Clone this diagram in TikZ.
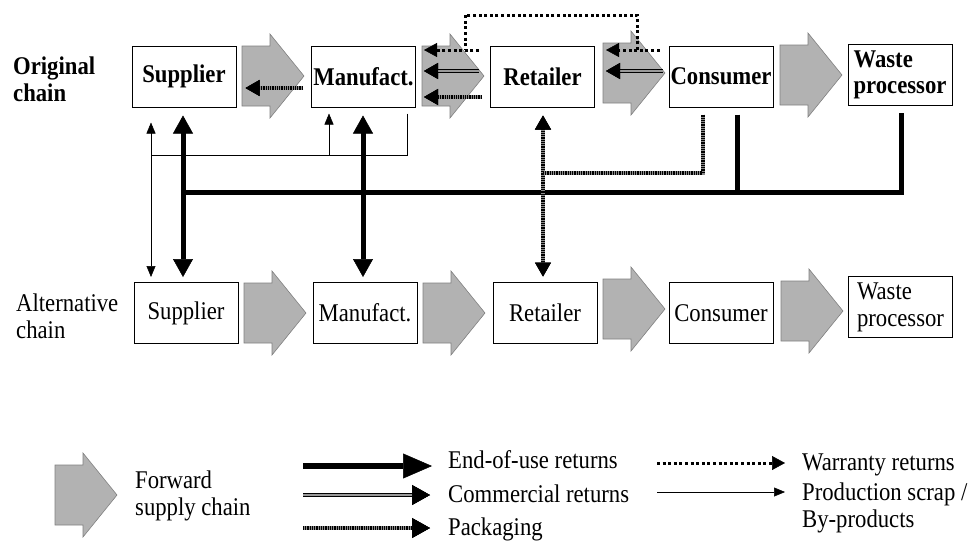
\documentclass[tikz,border=0pt]{standalone}
\usepackage{fontspec}
\setmainfont{Liberation Serif}[FakeStretch=0.89]
\usetikzlibrary{arrows.meta}
\newcommand\fwdarrow[2]{\draw[fwd] (#1,#2-30) -- (#1+28,#2-30) -- (#1+28,#2-42) -- (#1+62,#2) -- (#1+28,#2+42) -- (#1+28,#2+30) -- (#1,#2+30) -- cycle;}
\begin{document}
\begin{tikzpicture}[x=1pt,y=-1pt,
  every node/.style={font=\fontsize{25.5}{27}\selectfont, inner sep=0pt},
  box/.style={draw, line width=1pt, minimum width=104pt, minimum height=61pt, align=center},
  topbox/.style={box, font=\fontsize{25.5}{26}\selectfont\bfseries},
  fwd/.style={fill=black!30, draw=black!50, line width=0.6pt},
  eou/.style={line width=5pt, >={Triangle[length=18pt,width=20pt,line width=0.5pt]}},
  comm/.style={line width=4.5pt, >={Triangle[length=14pt,width=16pt,black,line width=0.5pt]},
     postaction={draw=black!40, line width=1.5pt}},
  pack/.style={line width=4pt, draw=black!45, >={Triangle[length=14pt,width=16pt,black,line width=0.5pt]},
     postaction={draw=black, dash pattern=on 0.8pt off 1pt}},
  warr/.style={line width=3pt, dash pattern=on 3pt off 2.6pt, >={Triangle[length=13pt,width=14pt,line width=0.5pt]}},
  scrap/.style={line width=1pt, >={Triangle[length=11pt,width=9pt,line width=0.5pt]}}
]
\useasboundingbox (0,0) rectangle (978,542);

% forward supply chain arrows
\fwdarrow{242}{76}
\fwdarrow{422}{76}
\fwdarrow{603}{73}
\fwdarrow{780}{75}
\fwdarrow{244}{313}
\fwdarrow{423}{313}
\fwdarrow{603}{309}
\fwdarrow{781}{311}
\fwdarrow{55}{495}

% labels
\node[anchor=west, align=left, font=\fontsize{25.5}{27}\selectfont\bfseries] (lo) at (13,79) {Original\\chain};
\node[anchor=west, align=left] (la) at (16,316) {Alternative\\chain};

% original chain
\node[topbox] (os) at (184,76.5) {Supplier};
\node[topbox] (om) at (363.5,76.5) {Manufact.};
\node[topbox] (or) at (542.5,76.5) {Retailer};
\node[topbox] (oc) at (721,76.5) {Consumer};
\node[topbox, align=left] (ow) at (900,75) {Waste\\processor};

% alternative chain
\node[box] (as) at (186,313) {Supplier};
\node[box] (am) at (365,313) {Manufact.};
\node[box] (ar) at (545,312.5) {Retailer};
\node[box] (ac) at (721,313) {Consumer};
\node[box, align=left] (aw) at (900.5,307) {Waste\\processor};

% junction coordinates
\coordinate (s1) at (151,155);
\coordinate (s2) at (329,155);
\coordinate (s3) at (407,155);
\coordinate (h1) at (183,192);
\coordinate (h2) at (901,192);
\coordinate (h3) at (737,192);
\coordinate (h4) at (363,192);
\coordinate (p1) at (703,173);
\coordinate (p2) at (543,173);
\coordinate (yw) at (0,50);
\coordinate (yc) at (0,71);
\coordinate (yp1) at (0,88);
\coordinate (yp2) at (0,97);
\coordinate (w1) at (637,50);
\coordinate (w2) at (637,15);
\coordinate (w3) at (465,15);
\coordinate (w4) at (465,50);

% production scrap / by-products
\draw[scrap] (om.south -| s3) [shorten <=6pt] -- (s3) -- (s1);
\draw[scrap,->,shorten >=6pt] (s2) -- (om.south -| s2);
\draw[scrap,<->,shorten <=15pt,shorten >=5pt] (os.south -| s1) -- (as.north -| s1);

% end-of-use returns
\draw[eou,<->,shorten <=8pt,shorten >=5pt] (os.south -| h1) -- (as.north -| h1);
\draw[eou,<->,shorten <=8pt,shorten >=5pt] (om.south -| h4) -- (am.north -| h4);
\draw[eou,line join=miter,shorten >=7pt] (h1) -- (h2) -- (ow.south -| h2);
\draw[eou,shorten <=7pt] (oc.south -| h3) -- (h3);

% packaging
\draw[pack,<->,shorten <=8pt,shorten >=5pt] (or.south -| p2) -- (ar.north -| p2);
\draw[pack,shorten <=7pt] (oc.south -| p1) -- (p1) -- (p2);
\draw[pack,->,shorten <=8pt,shorten >=9pt] (om.west |- yp1) -- (os.east |- yp1);
\draw[pack,->,shorten <=8pt,shorten >=8pt] (or.west |- yp2) -- (om.east |- yp2);

% commercial returns
\draw[comm,->,shorten <=11pt,shorten >=8pt] (or.west |- yc) -- (om.east |- yc);
\draw[comm,->,shorten <=6pt,shorten >=11pt] (oc.west |- yc) -- (or.east |- yc);

% warranty returns
\draw[warr,->,shorten <=9pt,shorten >=11pt] (oc.west |- yw) -- (or.east |- yw);
\draw[warr] (w1) -- (w2) -- (w3) -- (w4);
\draw[warr,->,shorten <=11pt,shorten >=8pt] (or.west |- yw) -- (om.east |- yw);

% legend
\node[anchor=west, align=left] (lf) at (135,496) {Forward\\supply chain};
\coordinate (le1) at (303,466); \coordinate (le2) at (432,466);
\coordinate (lc1) at (303,495); \coordinate (lc2) at (430,495);
\coordinate (lp1) at (303,528); \coordinate (lp2) at (430,528);
\coordinate (lw1) at (657,463); \coordinate (lw2) at (785,463);
\coordinate (ls1) at (657,492); \coordinate (ls2) at (785,492);
\draw[eou,line width=6pt,->,>={Triangle[length=29pt,width=25pt,line width=0.5pt]}] (le1) -- (le2);
\draw[comm,->,>={Triangle[length=18pt,width=20pt,black,line width=0.5pt]}] (lc1) -- (lc2);
\draw[pack,->,>={Triangle[length=18pt,width=20pt,black,line width=0.5pt]}] (lp1) -- (lp2);
\draw[warr,->] (lw1) -- (lw2);
\draw[scrap,->] (ls1) -- (ls2);
\node[anchor=base west] (te) at (448,468) {End-of-use returns};
\node[anchor=base west] (tc) at (448,502) {Commercial returns};
\node[anchor=base west] (tp) at (448,535) {Packaging};
\node[anchor=base west] (tw) at (802,470) {Warranty returns};
\node[anchor=west, align=left] (ts) at (802,508) {Production scrap /\\By-products};
\end{tikzpicture}
\end{document}
